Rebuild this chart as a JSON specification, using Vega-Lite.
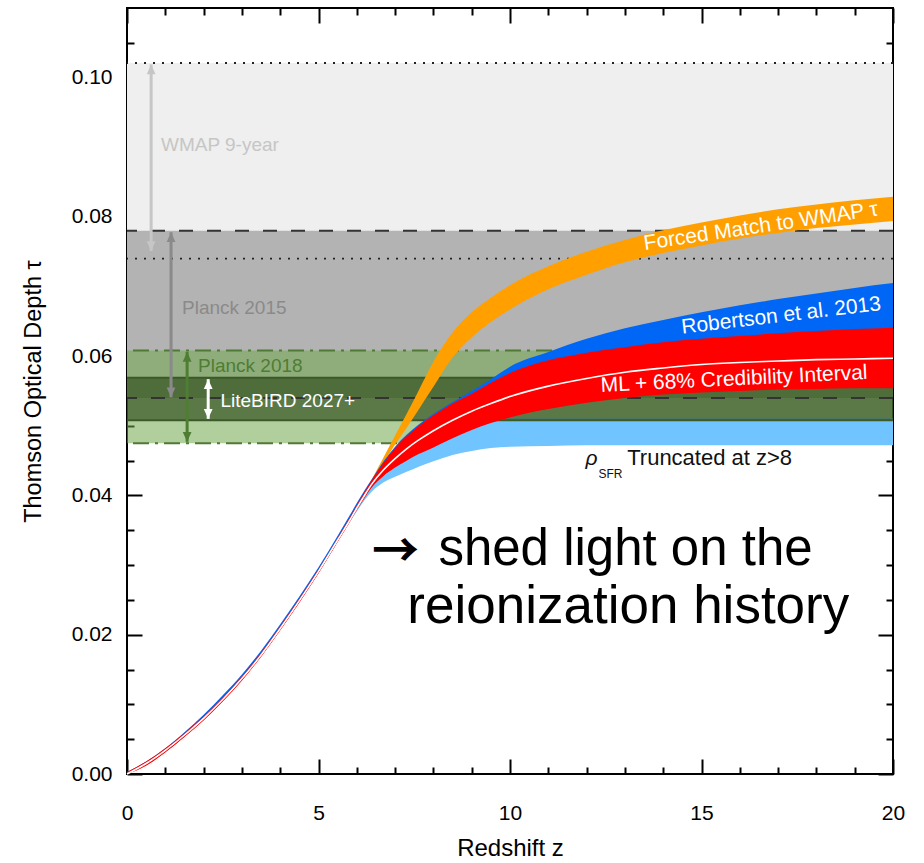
{
  "$schema": "https://vega.github.io/schema/vega-lite/v6.json",
  "width": 766,
  "height": 766,
  "autosize": {"type": "none"},
  "padding": {"left": 127, "top": 8, "right": 31, "bottom": 89},
  "background": "white",
  "config": {
    "view": {"stroke": "black", "strokeWidth": 2},
    "font": "Liberation Sans",
    "axis": {"domain": false, "grid": false, "tickColor": "black", "tickWidth": 2, "zindex": 1, "labelFont": "Liberation Sans", "titleFont": "Liberation Sans", "labelColor": "black", "titleColor": "black", "titleFontWeight": "normal", "labelFlush": false, "labelOverlap": false}
  },
  "datasets": {
    "hbands": [
      {"band": "WMAP", "lo": 0.074, "hi": 0.1021},
      {"band": "Planck2015", "lo": 0.054, "hi": 0.078},
      {"band": "Planck2018", "lo": 0.0475, "hi": 0.0608},
      {"band": "LiteBIRD", "lo": 0.0508, "hi": 0.0569}
    ],
    "hlines": [
      {"kind": "dotted", "tau": 0.1021},
      {"kind": "dotted", "tau": 0.074},
      {"kind": "dashed", "tau": 0.078},
      {"kind": "dashed", "tau": 0.054},
      {"kind": "dashdot", "tau": 0.0608},
      {"kind": "dashdot", "tau": 0.0475},
      {"kind": "litebird", "tau": 0.0508},
      {"kind": "litebird", "tau": 0.0569}
    ],
    "curves": [
      {"s": "lb", "z": 0, "lo": 0, "hi": 0},
      {"s": "lb", "z": 0.5, "lo": 0.0013, "hi": 0.0015},
      {"s": "lb", "z": 1, "lo": 0.0032, "hi": 0.0034},
      {"s": "lb", "z": 1.5, "lo": 0.0054, "hi": 0.0056},
      {"s": "lb", "z": 2, "lo": 0.0078, "hi": 0.0080},
      {"s": "lb", "z": 2.5, "lo": 0.0105, "hi": 0.0107},
      {"s": "lb", "z": 3, "lo": 0.0135, "hi": 0.0137},
      {"s": "lb", "z": 3.5, "lo": 0.0169, "hi": 0.0171},
      {"s": "lb", "z": 4, "lo": 0.0207, "hi": 0.0209},
      {"s": "lb", "z": 4.5, "lo": 0.0247, "hi": 0.0249},
      {"s": "lb", "z": 5, "lo": 0.0289, "hi": 0.0291},
      {"s": "lb", "z": 5.5, "lo": 0.0334, "hi": 0.0336},
      {"s": "lb", "z": 5.8, "lo": 0.0360, "hi": 0.0364},
      {"s": "lb", "z": 6, "lo": 0.0377, "hi": 0.0382},
      {"s": "lb", "z": 6.2, "lo": 0.0393, "hi": 0.0399},
      {"s": "lb", "z": 6.4, "lo": 0.0406, "hi": 0.0414},
      {"s": "lb", "z": 6.7, "lo": 0.0419, "hi": 0.0428},
      {"s": "lb", "z": 7, "lo": 0.0427, "hi": 0.0441},
      {"s": "lb", "z": 7.3, "lo": 0.0434, "hi": 0.0452},
      {"s": "lb", "z": 7.6, "lo": 0.0441, "hi": 0.0462},
      {"s": "lb", "z": 8, "lo": 0.0449, "hi": 0.0474},
      {"s": "lb", "z": 8.5, "lo": 0.0458, "hi": 0.0488},
      {"s": "lb", "z": 9, "lo": 0.0464, "hi": 0.0500},
      {"s": "lb", "z": 9.5, "lo": 0.0468, "hi": 0.0508},
      {"s": "lb", "z": 10, "lo": 0.0470, "hi": 0.0511},
      {"s": "lb", "z": 11, "lo": 0.0471, "hi": 0.0511},
      {"s": "lb", "z": 12, "lo": 0.0472, "hi": 0.0511},
      {"s": "lb", "z": 14, "lo": 0.0472, "hi": 0.0511},
      {"s": "lb", "z": 16, "lo": 0.0472, "hi": 0.0511},
      {"s": "lb", "z": 18, "lo": 0.0472, "hi": 0.0511},
      {"s": "lb", "z": 20, "lo": 0.0472, "hi": 0.0511},

      {"s": "or", "z": 0, "lo": 0, "hi": 0.0002},
      {"s": "or", "z": 0.5, "lo": 0.0013, "hi": 0.0017},
      {"s": "or", "z": 1, "lo": 0.0032, "hi": 0.0036},
      {"s": "or", "z": 1.5, "lo": 0.0054, "hi": 0.0058},
      {"s": "or", "z": 2, "lo": 0.0078, "hi": 0.0082},
      {"s": "or", "z": 2.5, "lo": 0.0105, "hi": 0.0109},
      {"s": "or", "z": 3, "lo": 0.0135, "hi": 0.0139},
      {"s": "or", "z": 3.5, "lo": 0.0169, "hi": 0.0173},
      {"s": "or", "z": 4, "lo": 0.0207, "hi": 0.0211},
      {"s": "or", "z": 4.5, "lo": 0.0247, "hi": 0.0251},
      {"s": "or", "z": 5, "lo": 0.0289, "hi": 0.0293},
      {"s": "or", "z": 5.5, "lo": 0.0334, "hi": 0.0338},
      {"s": "or", "z": 5.8, "lo": 0.0362, "hi": 0.0366},
      {"s": "or", "z": 6, "lo": 0.0381, "hi": 0.0385},
      {"s": "or", "z": 6.2, "lo": 0.0400, "hi": 0.0404},
      {"s": "or", "z": 6.4, "lo": 0.0419, "hi": 0.0424},
      {"s": "or", "z": 6.7, "lo": 0.0447, "hi": 0.0455},
      {"s": "or", "z": 7, "lo": 0.0473, "hi": 0.0486},
      {"s": "or", "z": 7.3, "lo": 0.0497, "hi": 0.0517},
      {"s": "or", "z": 7.6, "lo": 0.0522, "hi": 0.0549},
      {"s": "or", "z": 8, "lo": 0.0556, "hi": 0.0592},
      {"s": "or", "z": 8.5, "lo": 0.0598, "hi": 0.0634},
      {"s": "or", "z": 9, "lo": 0.0627, "hi": 0.0663},
      {"s": "or", "z": 9.5, "lo": 0.0649, "hi": 0.0684},
      {"s": "or", "z": 10, "lo": 0.0667, "hi": 0.0702},
      {"s": "or", "z": 11, "lo": 0.0696, "hi": 0.0729},
      {"s": "or", "z": 12, "lo": 0.0717, "hi": 0.0750},
      {"s": "or", "z": 13, "lo": 0.0735, "hi": 0.0767},
      {"s": "or", "z": 14, "lo": 0.0748, "hi": 0.0781},
      {"s": "or", "z": 15, "lo": 0.0759, "hi": 0.0792},
      {"s": "or", "z": 16, "lo": 0.0769, "hi": 0.0802},
      {"s": "or", "z": 17, "lo": 0.0777, "hi": 0.0811},
      {"s": "or", "z": 18, "lo": 0.0784, "hi": 0.0818},
      {"s": "or", "z": 19, "lo": 0.0789, "hi": 0.0824},
      {"s": "or", "z": 20, "lo": 0.0794, "hi": 0.0829},

      {"s": "bl", "z": 0, "lo": 0, "hi": 0.0003},
      {"s": "bl", "z": 0.5, "lo": 0.0013, "hi": 0.0018},
      {"s": "bl", "z": 1, "lo": 0.0032, "hi": 0.0037},
      {"s": "bl", "z": 1.5, "lo": 0.0054, "hi": 0.0060},
      {"s": "bl", "z": 2, "lo": 0.0078, "hi": 0.0085},
      {"s": "bl", "z": 2.5, "lo": 0.0105, "hi": 0.0113},
      {"s": "bl", "z": 3, "lo": 0.0135, "hi": 0.0143},
      {"s": "bl", "z": 3.5, "lo": 0.0169, "hi": 0.0177},
      {"s": "bl", "z": 4, "lo": 0.0207, "hi": 0.0215},
      {"s": "bl", "z": 4.5, "lo": 0.0247, "hi": 0.0255},
      {"s": "bl", "z": 5, "lo": 0.0289, "hi": 0.0297},
      {"s": "bl", "z": 5.5, "lo": 0.0334, "hi": 0.0342},
      {"s": "bl", "z": 5.8, "lo": 0.0362, "hi": 0.0370},
      {"s": "bl", "z": 6, "lo": 0.0381, "hi": 0.0389},
      {"s": "bl", "z": 6.2, "lo": 0.0398, "hi": 0.0407},
      {"s": "bl", "z": 6.4, "lo": 0.0413, "hi": 0.0424},
      {"s": "bl", "z": 6.7, "lo": 0.0429, "hi": 0.0449},
      {"s": "bl", "z": 7, "lo": 0.0441, "hi": 0.0470},
      {"s": "bl", "z": 7.3, "lo": 0.0451, "hi": 0.0487},
      {"s": "bl", "z": 7.6, "lo": 0.0460, "hi": 0.0501},
      {"s": "bl", "z": 8, "lo": 0.0470, "hi": 0.0517},
      {"s": "bl", "z": 8.5, "lo": 0.0483, "hi": 0.0534},
      {"s": "bl", "z": 9, "lo": 0.0495, "hi": 0.0550},
      {"s": "bl", "z": 9.5, "lo": 0.0505, "hi": 0.0567},
      {"s": "bl", "z": 10, "lo": 0.0513, "hi": 0.0585},
      {"s": "bl", "z": 11, "lo": 0.0525, "hi": 0.0606},
      {"s": "bl", "z": 12, "lo": 0.0534, "hi": 0.0625},
      {"s": "bl", "z": 13, "lo": 0.0541, "hi": 0.0640},
      {"s": "bl", "z": 14, "lo": 0.0546, "hi": 0.0652},
      {"s": "bl", "z": 15, "lo": 0.0549, "hi": 0.0663},
      {"s": "bl", "z": 16, "lo": 0.0551, "hi": 0.0673},
      {"s": "bl", "z": 17, "lo": 0.0553, "hi": 0.0682},
      {"s": "bl", "z": 18, "lo": 0.0554, "hi": 0.0690},
      {"s": "bl", "z": 19, "lo": 0.0555, "hi": 0.0698},
      {"s": "bl", "z": 20, "lo": 0.0555, "hi": 0.0705},

      {"s": "rd", "z": 0, "lo": 0, "hi": 0.0003},
      {"s": "rd", "z": 0.5, "lo": 0.0012, "hi": 0.0018},
      {"s": "rd", "z": 1, "lo": 0.0031, "hi": 0.0037},
      {"s": "rd", "z": 1.5, "lo": 0.0053, "hi": 0.0059},
      {"s": "rd", "z": 2, "lo": 0.0077, "hi": 0.0083},
      {"s": "rd", "z": 2.5, "lo": 0.0104, "hi": 0.0110},
      {"s": "rd", "z": 3, "lo": 0.0134, "hi": 0.0140},
      {"s": "rd", "z": 3.5, "lo": 0.0168, "hi": 0.0174},
      {"s": "rd", "z": 4, "lo": 0.0206, "hi": 0.0212},
      {"s": "rd", "z": 4.5, "lo": 0.0246, "hi": 0.0252},
      {"s": "rd", "z": 5, "lo": 0.0288, "hi": 0.0294},
      {"s": "rd", "z": 5.5, "lo": 0.0333, "hi": 0.0339},
      {"s": "rd", "z": 5.8, "lo": 0.0360, "hi": 0.0367},
      {"s": "rd", "z": 6, "lo": 0.0379, "hi": 0.0386},
      {"s": "rd", "z": 6.2, "lo": 0.0396, "hi": 0.0405},
      {"s": "rd", "z": 6.4, "lo": 0.0412, "hi": 0.0423},
      {"s": "rd", "z": 6.7, "lo": 0.0428, "hi": 0.0447},
      {"s": "rd", "z": 7, "lo": 0.0440, "hi": 0.0468},
      {"s": "rd", "z": 7.3, "lo": 0.0450, "hi": 0.0485},
      {"s": "rd", "z": 7.6, "lo": 0.0459, "hi": 0.0499},
      {"s": "rd", "z": 8, "lo": 0.0469, "hi": 0.0515},
      {"s": "rd", "z": 8.5, "lo": 0.0482, "hi": 0.0532},
      {"s": "rd", "z": 9, "lo": 0.0494, "hi": 0.0546},
      {"s": "rd", "z": 9.5, "lo": 0.0504, "hi": 0.0562},
      {"s": "rd", "z": 10, "lo": 0.0512, "hi": 0.0576},
      {"s": "rd", "z": 11, "lo": 0.0524, "hi": 0.0594},
      {"s": "rd", "z": 12, "lo": 0.0533, "hi": 0.0605},
      {"s": "rd", "z": 13, "lo": 0.0540, "hi": 0.0613},
      {"s": "rd", "z": 14, "lo": 0.0545, "hi": 0.0620},
      {"s": "rd", "z": 15, "lo": 0.0548, "hi": 0.0625},
      {"s": "rd", "z": 16, "lo": 0.0550, "hi": 0.0629},
      {"s": "rd", "z": 17, "lo": 0.0552, "hi": 0.0633},
      {"s": "rd", "z": 18, "lo": 0.0553, "hi": 0.0636},
      {"s": "rd", "z": 19, "lo": 0.0554, "hi": 0.0639},
      {"s": "rd", "z": 20, "lo": 0.0554, "hi": 0.0641}
    ],
    "ml": [
      {"z": 0, "tau": 0}, {"z": 0.5, "tau": 0.0015}, {"z": 1, "tau": 0.0034}, {"z": 1.5, "tau": 0.0056},
      {"z": 2, "tau": 0.0080}, {"z": 2.5, "tau": 0.0107}, {"z": 3, "tau": 0.0137}, {"z": 3.5, "tau": 0.0171},
      {"z": 4, "tau": 0.0209}, {"z": 4.5, "tau": 0.0249}, {"z": 5, "tau": 0.0291}, {"z": 5.5, "tau": 0.0336},
      {"z": 5.8, "tau": 0.0363}, {"z": 6, "tau": 0.0382}, {"z": 6.2, "tau": 0.0400}, {"z": 6.4, "tau": 0.0417},
      {"z": 6.7, "tau": 0.0437}, {"z": 7, "tau": 0.0453}, {"z": 7.3, "tau": 0.0467}, {"z": 7.6, "tau": 0.0479},
      {"z": 8, "tau": 0.0493}, {"z": 8.5, "tau": 0.0508}, {"z": 9, "tau": 0.0521}, {"z": 9.5, "tau": 0.0532},
      {"z": 10, "tau": 0.0542}, {"z": 11, "tau": 0.0557}, {"z": 12, "tau": 0.0568}, {"z": 13, "tau": 0.0577},
      {"z": 14, "tau": 0.0583}, {"z": 15, "tau": 0.0588}, {"z": 16, "tau": 0.0591}, {"z": 17, "tau": 0.0593},
      {"z": 18, "tau": 0.0595}, {"z": 19, "tau": 0.0596}, {"z": 20, "tau": 0.0597}
    ],
    "arrows": [
      {"name": "WMAP", "z": 0.63, "lo": 0.0751, "hi": 0.1019},
      {"name": "P15", "z": 1.15, "lo": 0.0541, "hi": 0.0778},
      {"name": "P18", "z": 1.57, "lo": 0.0477, "hi": 0.0606},
      {"name": "LB", "z": 2.12, "lo": 0.0510, "hi": 0.0567}
    ]
  },
  "layer": [
    {
      "data": {"name": "hbands"},
      "transform": [{"filter": "datum.band === 'WMAP'"}],
      "mark": {"type": "rect", "color": "#efefef"},
      "encoding": {
        "x": {"datum": 0, "type": "quantitative", "scale": {"domain": [0, 20], "nice": false, "zero": false},
              "axis": {"orient": "bottom", "values": [0, 5, 10, 15, 20], "format": "d", "tickSize": -15, "labelPadding": 54, "labelBaseline": "middle", "labelFontSize": 21, "title": "Redshift z", "titleFontSize": 24, "titlePadding": 13}},
        "x2": {"datum": 20},
        "y": {"field": "lo", "type": "quantitative", "scale": {"domain": [0, 0.11], "nice": false, "zero": false},
              "axis": {"orient": "left", "values": [0, 0.02, 0.04, 0.06, 0.08, 0.1], "format": ".2f", "tickSize": -15, "labelPadding": 30, "labelFontSize": 21, "title": "Thomson Optical Depth τ", "titleFontSize": 23.5, "titlePadding": 26}},
        "y2": {"field": "hi"}
      }
    },
    {
      "data": {"name": "hbands"},
      "transform": [{"filter": "datum.band === 'Planck2015'"}],
      "mark": {"type": "rect", "color": "#b3b3b3"},
      "encoding": {
        "x": {"datum": 0, "type": "quantitative",
              "axis": {"orient": "bottom", "values": [1, 2, 3, 4, 6, 7, 8, 9, 11, 12, 13, 14, 16, 17, 18, 19], "tickSize": -7, "labels": false, "title": null}},
        "x2": {"datum": 20},
        "y": {"field": "lo", "type": "quantitative",
              "axis": {"orient": "left", "values": [0.005, 0.01, 0.015, 0.025, 0.03, 0.035, 0.045, 0.05, 0.055, 0.065, 0.07, 0.075, 0.085, 0.09, 0.095, 0.105], "tickSize": -7, "labels": false, "title": null}},
        "y2": {"field": "hi"}
      }
    },
    {
      "data": {"name": "hbands"},
      "transform": [{"filter": "datum.band === 'Planck2018'"}],
      "mark": {"type": "rect", "color": "#6fa84a", "opacity": 0.55},
      "encoding": {
        "x": {"datum": 0, "type": "quantitative",
              "axis": {"orient": "top", "values": [0, 5, 10, 15, 20], "tickSize": -15, "labels": false, "title": null}},
        "x2": {"datum": 20},
        "y": {"field": "lo", "type": "quantitative",
              "axis": {"orient": "right", "values": [0, 0.02, 0.04, 0.06, 0.08, 0.1], "tickSize": -15, "labels": false, "title": null}},
        "y2": {"field": "hi"}
      }
    },
    {
      "data": {"name": "hlines"},
      "transform": [{"filter": "datum.kind === 'dashdot'"}],
      "mark": {"type": "rule", "color": "#4f7a34", "strokeWidth": 2, "strokeDash": [16, 6, 3, 6]},
      "encoding": {"y": {"field": "tau", "type": "quantitative", "axis": null}}
    },
    {
      "data": {"name": "curves"},
      "transform": [{"filter": "datum.s === 'lb'"}],
      "mark": {"type": "area", "color": "#70c4ff", "interpolate": "monotone", "opacity": 1},
      "encoding": {
        "x": {"field": "z", "type": "quantitative",
              "axis": {"orient": "top", "values": [1, 2, 3, 4, 6, 7, 8, 9, 11, 12, 13, 14, 16, 17, 18, 19], "tickSize": -7, "labels": false, "title": null}},
        "y": {"field": "lo", "type": "quantitative",
              "axis": {"orient": "right", "values": [0.005, 0.01, 0.015, 0.025, 0.03, 0.035, 0.045, 0.05, 0.055, 0.065, 0.07, 0.075, 0.085, 0.09, 0.095, 0.105], "tickSize": -7, "labels": false, "title": null}},
        "y2": {"field": "hi"}
      }
    },
    {
      "data": {"name": "hbands"},
      "transform": [{"filter": "datum.band === 'LiteBIRD'"}],
      "mark": {"type": "rect", "color": "#2e4c1c", "opacity": 0.66},
      "encoding": {
        "x": {"datum": 0, "type": "quantitative", "axis": null},
        "x2": {"datum": 20},
        "y": {"field": "lo", "type": "quantitative", "axis": null},
        "y2": {"field": "hi"}
      }
    },
    {
      "data": {"name": "hlines"},
      "transform": [{"filter": "datum.kind === 'litebird'"}],
      "mark": {"type": "rule", "color": "#3b5a28", "strokeWidth": 2},
      "encoding": {"y": {"field": "tau", "type": "quantitative", "axis": null}}
    },
    {
      "data": {"name": "hlines"},
      "transform": [{"filter": "datum.kind === 'dashed'"}],
      "mark": {"type": "rule", "color": "#333333", "strokeWidth": 2, "strokeDash": [14, 14]},
      "encoding": {"y": {"field": "tau", "type": "quantitative", "axis": null}}
    },
    {
      "data": {"name": "hlines"},
      "transform": [{"filter": "datum.kind === 'dotted'"}],
      "mark": {"type": "rule", "color": "#222222", "strokeWidth": 1.8, "strokeDash": [2, 7]},
      "encoding": {"y": {"field": "tau", "type": "quantitative", "axis": null}}
    },
    {
      "data": {"name": "curves"},
      "transform": [{"filter": "datum.s === 'or'"}],
      "mark": {"type": "area", "color": "#ffa000", "interpolate": "monotone", "opacity": 1},
      "encoding": {
        "x": {"field": "z", "type": "quantitative", "axis": null},
        "y": {"field": "lo", "type": "quantitative", "axis": null},
        "y2": {"field": "hi"}
      }
    },
    {
      "data": {"name": "curves"},
      "transform": [{"filter": "datum.s === 'bl'"}],
      "mark": {"type": "area", "color": "#0066f5", "interpolate": "monotone", "opacity": 1},
      "encoding": {
        "x": {"field": "z", "type": "quantitative", "axis": null},
        "y": {"field": "lo", "type": "quantitative", "axis": null},
        "y2": {"field": "hi"}
      }
    },
    {
      "data": {"name": "curves"},
      "transform": [{"filter": "datum.s === 'rd'"}],
      "mark": {"type": "area", "color": "#ff0000", "interpolate": "monotone", "opacity": 1},
      "encoding": {
        "x": {"field": "z", "type": "quantitative", "axis": null},
        "y": {"field": "lo", "type": "quantitative", "axis": null},
        "y2": {"field": "hi"}
      }
    },
    {
      "data": {"name": "ml"},
      "mark": {"type": "line", "color": "white", "strokeWidth": 1.6, "interpolate": "monotone"},
      "encoding": {
        "x": {"field": "z", "type": "quantitative", "axis": null},
        "y": {"field": "tau", "type": "quantitative", "axis": null}
      }
    },
    {
      "data": {"name": "arrows"},
      "mark": {"type": "rule", "strokeWidth": 3},
      "encoding": {
        "x": {"field": "z", "type": "quantitative", "axis": null},
        "y": {"field": "lo", "type": "quantitative", "axis": null},
        "y2": {"field": "hi"},
        "color": {"field": "name", "type": "nominal", "scale": {"domain": ["WMAP", "P15", "P18", "LB"], "range": ["#c6c6c6", "#8a8a8a", "#4f7d33", "#ffffff"]}, "legend": null}
      }
    },
    {
      "data": {"name": "arrows"},
      "mark": {"type": "point", "shape": "M0,0L-0.45,1L0.45,1Z", "size": 380, "filled": true, "opacity": 1, "strokeWidth": 0},
      "encoding": {
        "x": {"field": "z", "type": "quantitative", "axis": null},
        "y": {"field": "hi", "type": "quantitative", "axis": null},
        "color": {"field": "name", "type": "nominal", "legend": null}
      }
    },
    {
      "data": {"name": "arrows"},
      "mark": {"type": "point", "shape": "M0,0L-0.45,-1L0.45,-1Z", "size": 380, "filled": true, "opacity": 1, "strokeWidth": 0},
      "encoding": {
        "x": {"field": "z", "type": "quantitative", "axis": null},
        "y": {"field": "lo", "type": "quantitative", "axis": null},
        "color": {"field": "name", "type": "nominal", "legend": null}
      }
    },
    {
      "data": {"values": [
        {"t": "WMAP 9-year", "z": 0.888, "tau": 0.0894},
        {"t": "Planck 2015", "z": 1.436, "tau": 0.0661},
        {"t": "Planck 2018", "z": 1.854, "tau": 0.0578},
        {"t": "LiteBIRD 2027+", "z": 2.44, "tau": 0.0527}
      ]},
      "mark": {"type": "text", "align": "left", "baseline": "alphabetic", "fontSize": 19},
      "encoding": {
        "x": {"field": "z", "type": "quantitative", "axis": null},
        "y": {"field": "tau", "type": "quantitative", "axis": null},
        "text": {"field": "t"},
        "color": {"field": "t", "type": "nominal", "scale": {"domain": ["WMAP 9-year", "Planck 2015", "Planck 2018", "LiteBIRD 2027+"], "range": ["#c6c6c6", "#8a8a8a", "#5b8a3e", "#ffffff"]}, "legend": null}
      }
    },
    {
      "data": {"values": [{"t": "Forced Match to WMAP τ", "z": 16.55, "tau": 0.0786}]},
      "mark": {"type": "text", "align": "center", "baseline": "middle", "fontSize": 21, "angle": -8.4, "color": "white"},
      "encoding": {
        "x": {"field": "z", "type": "quantitative", "axis": null},
        "y": {"field": "tau", "type": "quantitative", "axis": null},
        "text": {"field": "t"}
      }
    },
    {
      "data": {"values": [{"t": "Robertson et al. 2013", "z": 17.08, "tau": 0.06578}]},
      "mark": {"type": "text", "align": "center", "baseline": "middle", "fontSize": 21, "angle": -6.8, "color": "white"},
      "encoding": {
        "x": {"field": "z", "type": "quantitative", "axis": null},
        "y": {"field": "tau", "type": "quantitative", "axis": null},
        "text": {"field": "t"}
      }
    },
    {
      "data": {"values": [{"t": "ML + 68% Credibility Interval", "z": 15.85, "tau": 0.05667}]},
      "mark": {"type": "text", "align": "center", "baseline": "middle", "fontSize": 21, "angle": -2.8, "color": "white"},
      "encoding": {
        "x": {"field": "z", "type": "quantitative", "axis": null},
        "y": {"field": "tau", "type": "quantitative", "axis": null},
        "text": {"field": "t"}
      }
    },
    {
      "data": {"values": [{"t": "ρ", "z": 11.97, "tau": 0.0444}]},
      "mark": {"type": "text", "align": "left", "baseline": "alphabetic", "fontSize": 21, "fontStyle": "italic", "color": "#111111"},
      "encoding": {
        "x": {"field": "z", "type": "quantitative", "axis": null},
        "y": {"field": "tau", "type": "quantitative", "axis": null},
        "text": {"field": "t"}
      }
    },
    {
      "data": {"values": [{"t": "SFR", "z": 12.31, "tau": 0.04253}]},
      "mark": {"type": "text", "align": "left", "baseline": "alphabetic", "fontSize": 12, "color": "#111111"},
      "encoding": {
        "x": {"field": "z", "type": "quantitative", "axis": null},
        "y": {"field": "tau", "type": "quantitative", "axis": null},
        "text": {"field": "t"}
      }
    },
    {
      "data": {"values": [{"t": "Truncated at z>8", "z": 13.06, "tau": 0.0444}]},
      "mark": {"type": "text", "align": "left", "baseline": "alphabetic", "fontSize": 22, "color": "#111111"},
      "encoding": {
        "x": {"field": "z", "type": "quantitative", "axis": null},
        "y": {"field": "tau", "type": "quantitative", "axis": null},
        "text": {"field": "t"}
      }
    },
    {
      "data": {"values": [{"t": "→", "z": 6.4, "tau": 0.03175}]},
      "mark": {"type": "text", "align": "left", "baseline": "middle", "fontSize": 47, "fontWeight": "bold", "font": "Noto Sans CJK SC", "color": "black"},
      "encoding": {
        "x": {"field": "z", "type": "quantitative", "axis": null},
        "y": {"field": "tau", "type": "quantitative", "axis": null},
        "text": {"field": "t"}
      }
    },
    {
      "data": {"values": [{"t": "shed light on the", "z": 8.13, "tau": 0.0300}]},
      "mark": {"type": "text", "align": "left", "baseline": "alphabetic", "fontSize": 51, "color": "black"},
      "encoding": {
        "x": {"field": "z", "type": "quantitative", "axis": null},
        "y": {"field": "tau", "type": "quantitative", "axis": null},
        "text": {"field": "t"}
      }
    },
    {
      "data": {"values": [{"t": "reionization history", "z": 7.32, "tau": 0.02164}]},
      "mark": {"type": "text", "align": "left", "baseline": "alphabetic", "fontSize": 53, "color": "black"},
      "encoding": {
        "x": {"field": "z", "type": "quantitative", "axis": null},
        "y": {"field": "tau", "type": "quantitative", "axis": null},
        "text": {"field": "t"}
      }
    }
  ],
  "resolve": {"axis": {"x": "independent", "y": "independent"}}
}
